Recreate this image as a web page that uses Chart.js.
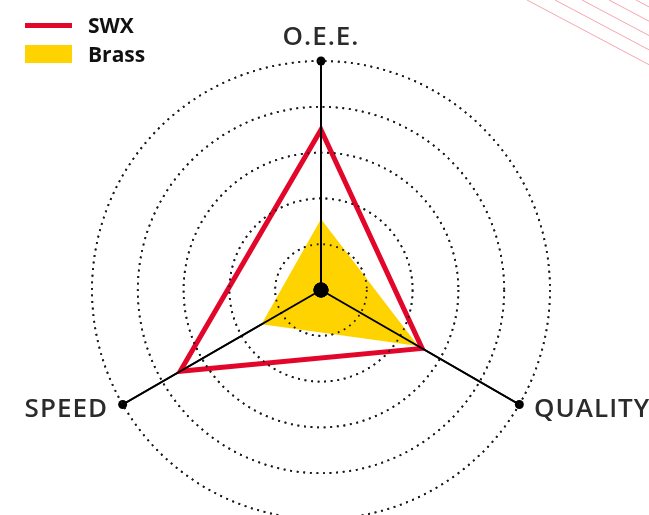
<!DOCTYPE html>
<html>
<head>
<meta charset="utf-8">
<script src="https://cdn.jsdelivr.net/npm/chart.js@4"></script>
<style>
  html, body { margin: 0; padding: 0; background: #fff; overflow: hidden; }
  .wrap { position: relative; width: 649px; height: 540px; }
  .deco { position: absolute; left: 0; top: 0; }
  .legend { position: absolute; left: 25px; top: 0; font-family: "Open Sans", sans-serif; font-weight: 700; font-size: 21px; color: #111; }
  .legend .item { position: absolute; left: 0; white-space: nowrap; height: 30px; line-height: 30px; }
  .legend .swatch { position: absolute; left: 0; width: 47px; }
  .legend .text { position: absolute; left: 63px; top: 0; }
</style>
</head>
<body>
<div class="wrap">
  <canvas id="radar-chart"></canvas>
  <svg class="deco" width="649" height="120" id="deco"></svg>
  <div class="legend" id="legend"></div>
</div>
<script>
// data (0..100 scale)
const axes = ['O.E.E.', 'QUALITY', 'SPEED'];
const swx = [70, 51, 71];
const brass = [31, 49, 30];
const axisEnds = [100, 100, 100];
const axisCenter = [0, 0, 0];

const red = '#e3062b';
const yellow = '#ffd300';

// Start legend
const legendItems = [
  { label: 'SWX', color: red, top: 10, swTop: 12.5, swH: 5 },
  { label: 'Brass', color: yellow, top: 39, swTop: 6, swH: 18 }
];
const legend = document.getElementById('legend');
legendItems.forEach(function(item){
  const el = document.createElement('div');
  el.className = 'item';
  el.style.top = item.top + 'px';
  el.innerHTML = '<div class="swatch" style="top:' + item.swTop + 'px;height:' + item.swH + 'px;background:' + item.color + '"></div>' +
    '<span class="text">' + item.label + '</span>';
  legend.appendChild(el);
});
// End legend

// Start corner lines
const deco = document.getElementById('deco');
[527, 555, 582, 609, 636].forEach(function(x0){
  const l = document.createElementNS('http://www.w3.org/2000/svg', 'line');
  l.setAttribute('x1', x0);
  l.setAttribute('y1', 0);
  l.setAttribute('x2', x0 + 200);
  l.setAttribute('y2', 106);
  l.setAttribute('stroke', '#f5a6ae');
  l.setAttribute('stroke-width', 1);
  deco.appendChild(l);
});
// End corner lines

// grid + axis lines sit on top of the filled areas in the original
const gridOnTop = {
  id: 'gridOnTop',
  afterDatasetsDraw(chart) {
    const scale = chart.scales.r;
    chart.ctx.save();
    scale.drawGrid();
    chart.ctx.restore();
  }
};

const axisLabels = {
  id: 'axisLabels',
  afterDraw(chart) {
    const scale = chart.scales.r;
    const ctx = chart.ctx;
    ctx.save();
    ctx.font = '600 26px "Open Sans"';
    ctx.fillStyle = '#2b2b2b';
    ctx.letterSpacing = '1px';
    ctx.textBaseline = 'alphabetic';
    axes.forEach(function(label, i){
      const pos = scale.getPointPosition(i, scale.drawingArea + 17);
      const dx = pos.x - scale.xCenter;
      if (Math.abs(dx) < 5) {
        ctx.textAlign = 'center';
        ctx.fillText(label, pos.x, pos.y + 1);
      } else {
        ctx.textAlign = dx < 0 ? 'right' : 'left';
        ctx.fillText(label, pos.x, pos.y + 4);
      }
    });
    ctx.restore();
  }
};

new Chart(document.getElementById('radar-chart'), {
  type: 'radar',
  data: {
    labels: axes,
    datasets: [
      {
        label: 'center',
        data: axisCenter,
        showLine: false,
        fill: false,
        backgroundColor: 'transparent',
        pointRadius: 7.5,
        pointBackgroundColor: '#000',
        pointBorderWidth: 0
      },
      {
        label: 'ends',
        data: axisEnds,
        showLine: false,
        fill: false,
        backgroundColor: 'transparent',
        pointRadius: 4.5,
        pointBackgroundColor: '#000',
        pointBorderWidth: 0
      },
      {
        label: 'SWX',
        data: swx,
        borderColor: red,
        borderWidth: 5,
        borderJoinStyle: 'miter',
        fill: false,
        pointRadius: 0
      },
      {
        label: 'Brass',
        data: brass,
        backgroundColor: yellow,
        borderWidth: 0,
        fill: true,
        pointRadius: 0
      }
    ]
  },
  options: {
    responsive: true,
    maintainAspectRatio: false,
    animation: false,
    layout: {
      padding: { left: 92, right: 99, top: 61, bottom: 21 }
    },
    plugins: {
      legend: { display: false },
      tooltip: { enabled: false }
    },
    elements: { line: { tension: 0 } },
    scales: {
      r: {
        min: 0,
        max: 100,
        ticks: { stepSize: 20, display: false },
        pointLabels: { display: false },
        grid: {
          circular: true,
          color: '#1a1a1a',
          lineWidth: 1.8
        },
        border: { dash: [1.8, 4.8] },
        angleLines: {
          color: '#000',
          lineWidth: 2
        }
      }
    }
  },
  plugins: [gridOnTop, axisLabels]
});
</script>
</body>
</html>
